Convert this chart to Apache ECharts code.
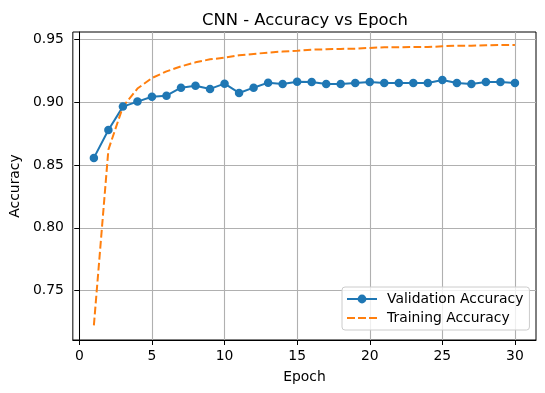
<!DOCTYPE html>
<html>
<head>
<meta charset="utf-8">
<script src="https://cdn.jsdelivr.net/npm/echarts@6/dist/echarts.min.js"></script>
<style>
  html, body { margin: 0; padding: 0; background: #fff; }
  #chart { width: 545px; height: 393px; }
</style>
</head>
<body>
<div id="chart"></div>
<script>
// epochs and accuracy values
const epochs = [1, 2, 3, 4, 5, 6, 7, 8, 9, 10, 11, 12, 13, 14, 15,
  16, 17, 18, 19, 20, 21, 22, 23, 24, 25, 26, 27, 28, 29, 30];
const valAcc = [0.8557, 0.878, 0.8966, 0.9006, 0.9045, 0.9053, 0.9117, 0.9133, 0.9107, 0.9149,
  0.9075, 0.9117, 0.9157, 0.9146, 0.9164, 0.9163, 0.9146, 0.9146, 0.9154, 0.9163,
  0.9154, 0.9154, 0.9154, 0.9154, 0.9178, 0.9154, 0.9146, 0.9163, 0.9163, 0.9154];
const trainAcc = [0.7222, 0.8623, 0.8965, 0.911, 0.9194, 0.9247, 0.9287, 0.9319, 0.9343, 0.9356,
  0.9375, 0.9386, 0.9397, 0.9405, 0.9412, 0.942, 0.9423, 0.9426, 0.9428, 0.9434,
  0.9439, 0.9439, 0.9441, 0.9441, 0.9447, 0.9452, 0.9452, 0.9455, 0.9457, 0.9457];
const xTicks = [0, 5, 10, 15, 20, 25, 30];
const yTicks = [0.75, 0.80, 0.85, 0.90, 0.95];

const font = "DejaVu Sans";
const chart = echarts.init(document.getElementById("chart"));

const axisCommon = {
  axisLine: { show: true, lineStyle: { color: "#000", width: 1 } },
  axisTick: { show: true, inside: false, length: 5, lineStyle: { color: "#000", width: 1 } },
  splitLine: { show: true, lineStyle: { color: "#b0b0b0", width: 1.1 } },
  nameTextStyle: { fontFamily: font, fontSize: 13.9, color: "#000" }
};

const option = {
  animation: false,
  backgroundColor: "#fff",
  title: {
    text: "CNN - Accuracy vs Epoch",
    left: 300,
    top: 8,
    textAlign: "center",
    textStyle: { fontFamily: font, fontSize: 16.4, fontWeight: "normal", color: "#000" }
  },
  grid: {
    left: 71, right: 9, top: 32, bottom: 53,
    show: true, borderColor: "#000", borderWidth: 1
  },
  xAxis: Object.assign({}, axisCommon, {
    type: "value",
    min: -0.45,
    max: 31.45,
    name: "Epoch",
    nameLocation: "middle",
    nameGap: 30,
    axisTick: Object.assign({}, axisCommon.axisTick, { customValues: xTicks }),
    axisLabel: {
      customValues: xTicks, margin: 9,
      fontFamily: font, fontSize: 13.9, color: "#000"
    }
  }),
  yAxis: Object.assign({}, axisCommon, {
    type: "value",
    min: 0.7105,
    max: 0.9561,
    name: "Accuracy",
    nameLocation: "middle",
    nameGap: 43,
    axisTick: Object.assign({}, axisCommon.axisTick, { customValues: yTicks }),
    axisLabel: {
      customValues: yTicks, margin: 9,
      fontFamily: font, fontSize: 13.9, color: "#000",
      formatter: v => v.toFixed(2)
    }
  }),
  legend: {
    orient: "vertical",
    left: 342,
    top: 287,
    padding: [5, 6, 5, 4],
    itemGap: 5,
    itemWidth: 30,
    itemHeight: 11,
    backgroundColor: "rgba(255,255,255,0.8)",
    borderColor: "#cccccc",
    borderWidth: 1,
    borderRadius: 3,
    textStyle: { fontFamily: font, fontSize: 13.9, color: "#000", padding: [0, 0, 0, 5] },
    data: [
      { name: "Validation Accuracy" },
      {
        name: "Training Accuracy",
        // dashed line icon, no marker
        icon: "path://M0,0H8V2H0Z M11,0H19V2H11Z M22,0H30V2H22Z",
        itemStyle: { color: "#ff7f0e" }
      }
    ]
  },
  series: [
    {
      name: "Validation Accuracy",
      type: "line",
      data: epochs.map((e, i) => [e, valAcc[i]]),
      symbol: "circle",
      symbolSize: 8.5,
      showAllSymbol: true,
      itemStyle: { color: "#1f77b4" },
      lineStyle: { color: "#1f77b4", width: 2 }
    },
    {
      name: "Training Accuracy",
      type: "line",
      data: epochs.map((e, i) => [e, trainAcc[i]]),
      symbol: "none",
      itemStyle: { color: "#ff7f0e" },
      lineStyle: { color: "#ff7f0e", width: 2, type: [7.7, 3.3] }
    }
  ]
};

chart.setOption(option);
</script>
</body>
</html>
